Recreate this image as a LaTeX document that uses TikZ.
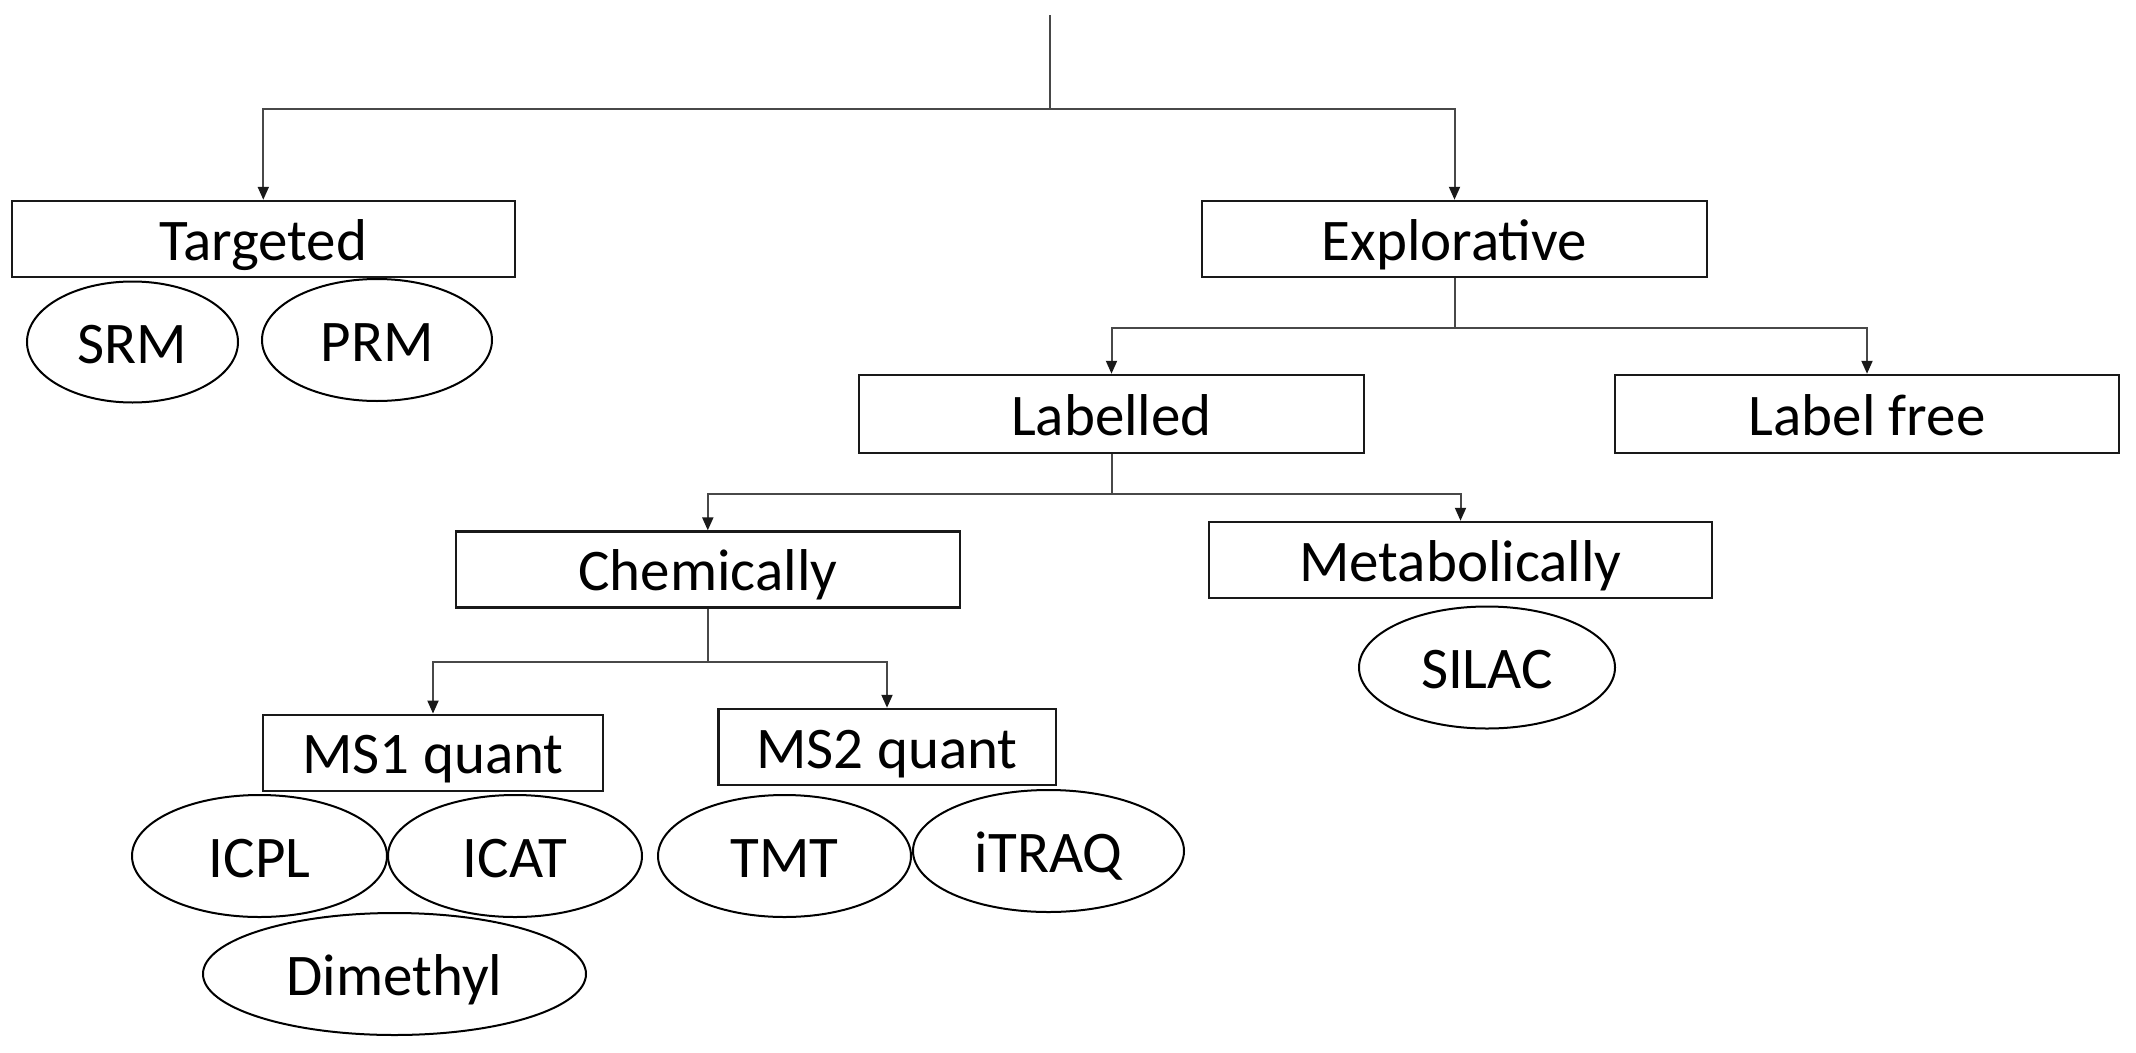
\documentclass[tikz,border=0pt]{standalone}
\usepackage{fontspec}
\setmainfont{Carlito}
\usetikzlibrary{shapes.geometric,arrows.meta}
\definecolor{conn}{HTML}{484848}
\tikzset{
  box/.style={draw=black!90, line width=2.5pt, rectangle, inner sep=0pt,
    minimum height=76pt, text height=42pt, text depth=0pt,
    font=\fontsize{59pt}{70pt}\selectfont},
  oval/.style={draw=black, line width=2pt, ellipse, inner sep=0pt,
    minimum height=122pt, text height=42pt, text depth=0pt,
    font=\fontsize{59pt}{70pt}\selectfont},
  link/.style={draw=conn, line width=2pt},
  arr/.style={link, -{Triangle[length=13pt,width=11pt,color=black!90]}}
}
\begin{document}
\begin{tikzpicture}[x=1pt,y=-1pt]
\useasboundingbox (0,0) rectangle (2136,1052);
% boxes
\node[box, minimum width=503pt] (targeted) at (263.3,239) {Targeted};
\node[box, minimum width=505pt] (explorative) at (1454.5,239) {Explorative};
\node[box, minimum width=505pt, minimum height=78pt] (labelled) at (1111.5,414) {Labelled};
\node[box, minimum width=504pt, minimum height=78pt] (labelfree) at (1867,414) {Label free};
\node[box, minimum width=504pt] (chem) at (707.8,569.6) {Chemically};
\node[box, minimum width=503pt] (metab) at (1460.5,560) {Metabolically};
\node[box, minimum width=340pt] (msone) at (433,752.8) {MS1 quant};
\node[box, minimum width=337.5pt] (mstwo) at (887,747) {MS2 quant};
% ellipses
\node[oval, minimum width=211pt, minimum height=121pt] (srm) at (132.5,342) {SRM};
\node[oval, minimum width=230pt] (prm) at (377,340) {PRM};
\node[oval, minimum width=255pt] (icpl) at (259.5,856) {ICPL};
\node[oval, minimum width=254pt] (icat) at (515,856) {ICAT};
\node[oval, minimum width=253pt] (tmt) at (784.5,856) {TMT};
\node[oval, minimum width=271pt] (itraq) at (1048.5,851) {iTRAQ};
\node[oval, minimum width=383pt] (dimethyl) at (394.5,974) {Dimethyl};
\node[oval, minimum width=256pt] (silac) at (1487,667.5) {SILAC};
% connectors
\coordinate (top) at (1049.5,15);
\coordinate (j1) at (1049.5,109);
\draw[link] (top) -- (j1);
\draw[arr] (j1) -| (targeted.north);
\draw[arr] (j1) -| (explorative.north);
\draw[link] (explorative.south) -- ++(0,49.5) coordinate (j2);
\draw[arr] (j2) -| (labelled.north);
\draw[arr] (j2) -| (labelfree.north);
\draw[link] (labelled.south) -- ++(0,40) coordinate (j3);
\draw[arr] (j3) -| (chem.north);
\draw[arr] (j3) -| (metab.north);
\draw[link] (chem.south) -- ++(0,53.5) coordinate (j4);
\draw[arr] (j4) -| (msone.north);
\draw[arr] (j4) -| (mstwo.north);
\end{tikzpicture}
\end{document}
